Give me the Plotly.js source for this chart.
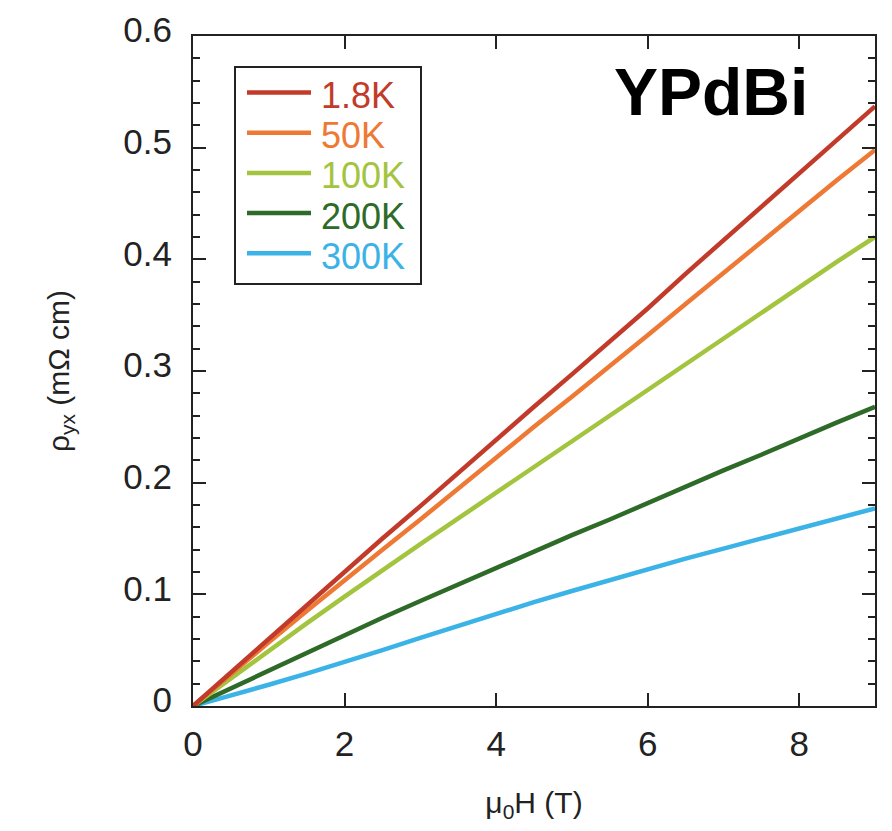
<!DOCTYPE html>
<html>
<head>
<meta charset="utf-8">
<script src="https://cdn.plot.ly/plotly-3.0.1.min.js"></script>
<style>html,body{margin:0;padding:0;background:#fff;}#chart{width:892px;height:831px;}</style>
</head>
<body>
<div id="chart"></div>
<script>
// Field values (T)
var fieldT = [0, 0.5, 1, 1.5, 2, 2.5, 3, 3.5, 4, 4.5, 5, 5.5, 6, 6.5, 7, 7.5, 8, 8.5, 9];
// Hall resistivity rho_yx (mOhm cm) per temperature
var rho_1p8K = [0, 0.030, 0.060, 0.090, 0.121, 0.150, 0.179, 0.209, 0.239, 0.268, 0.297, 0.326, 0.356, 0.387, 0.417, 0.447, 0.477, 0.507, 0.537];
var rho_50K  = [0, 0.029, 0.057, 0.085, 0.113, 0.140, 0.167, 0.195, 0.223, 0.250, 0.277, 0.304, 0.332, 0.360, 0.388, 0.416, 0.443, 0.471, 0.498];
var rho_100K = [0, 0.025, 0.050, 0.074, 0.098, 0.122, 0.145, 0.168, 0.191, 0.215, 0.238, 0.261, 0.284, 0.307, 0.330, 0.353, 0.375, 0.398, 0.420];
var rho_200K = [0, 0.016, 0.032, 0.048, 0.063, 0.079, 0.094, 0.109, 0.124, 0.139, 0.153, 0.167, 0.182, 0.196, 0.211, 0.225, 0.240, 0.254, 0.268];
var rho_300K = [0, 0.009, 0.019, 0.029, 0.039, 0.050, 0.061, 0.072, 0.083, 0.093, 0.103, 0.113, 0.122, 0.132, 0.141, 0.150, 0.159, 0.168, 0.177];

var seriesNames = ['1.8K', '50K', '100K', '200K', '300K'];
var seriesColors = ['#C23B2A', '#EE7935', '#A3C43E', '#2E6A28', '#3BB3E6'];
var seriesValues = [rho_1p8K, rho_50K, rho_100K, rho_200K, rho_300K];

var FONT = 'Liberation Sans, Arial, Helvetica, sans-serif';
var AX = '#222';

// plot area in px (for placing the legend box)
var L = 193, R = 875, T = 36, B = 706;
function px2x(px){ return (px - L) / (R - L); }
function px2y(py){ return (B - py) / (B - T); }

var traces = [];
// draw in reverse so 1.8K sits on top
for (var i = seriesValues.length - 1; i >= 0; i--) {
  traces.push({
    x: fieldT, y: seriesValues[i], type: 'scatter', mode: 'lines',
    name: seriesNames[i], showlegend: false,
    line: {color: seriesColors[i], width: 4.5}
  });
}

var shapes = [{
  type: 'rect', xref: 'paper', yref: 'paper',
  x0: px2x(235), x1: px2x(421), y0: px2y(284), y1: px2y(67),
  line: {color: AX, width: 2}, fillcolor: 'rgba(0,0,0,0)'
}];
var annotations = [];
for (var k = 0; k < seriesNames.length; k++) {
  var yy = 92.5 + k * 40.2;
  shapes.push({
    type: 'line', xref: 'paper', yref: 'paper',
    x0: px2x(247), x1: px2x(311), y0: px2y(yy), y1: px2y(yy),
    line: {color: seriesColors[k], width: 4.5}
  });
  annotations.push({
    xref: 'paper', yref: 'paper', x: px2x(319), y: px2y(yy + 3),
    xanchor: 'left', yanchor: 'middle', showarrow: false,
    text: seriesNames[k], font: {family: FONT, size: 36, color: seriesColors[k]}
  });
}
annotations.push({
  xref: 'paper', yref: 'paper', x: px2x(711), y: px2y(92),
  xanchor: 'center', yanchor: 'middle', showarrow: false,
  text: '<b>YPdBi</b>', font: {family: FONT, size: 66, color: '#000'}
});

var layout = {
  width: 892, height: 831,
  margin: {l: L, r: 892 - R, t: T, b: 831 - B},
  paper_bgcolor: '#fff', plot_bgcolor: '#fff',
  showlegend: false,
  font: {family: FONT, color: '#222'},
  xaxis: {
    range: [0, 9], dtick: 2, tick0: 0,
    ticks: 'inside', ticklen: 13, tickwidth: 2, tickcolor: AX,
    showline: true, linecolor: AX, linewidth: 2, mirror: 'ticks',
    showgrid: false, zeroline: false,
    tickfont: {family: FONT, size: 35, color: '#222'},
    ticklabelstandoff: 6,
    title: {text: 'μ<sub>0</sub>H (T)', font: {family: FONT, size: 30, color: '#222'}, standoff: 30}
  },
  yaxis: {
    range: [0, 0.6], dtick: 0.1, tick0: 0,
    ticks: 'inside', ticklen: 13, tickwidth: 2, tickcolor: AX,
    minor: {dtick: 0.02, ticks: 'inside', ticklen: 7, tickwidth: 2, tickcolor: AX, showgrid: false},
    showline: true, linecolor: AX, linewidth: 2, mirror: 'ticks',
    showgrid: false, zeroline: false,
    tickfont: {family: FONT, size: 35, color: '#222'},
    ticklabelstandoff: 12, ticklabelshift: -6,
    title: {text: 'ρ<sub>yx</sub> (mΩ cm)', font: {family: FONT, size: 30, color: '#222'}, standoff: 45}
  },
  shapes: shapes,
  annotations: annotations
};

Plotly.newPlot('chart', traces, layout, {displayModeBar: false, staticPlot: true});
</script>
</body>
</html>
